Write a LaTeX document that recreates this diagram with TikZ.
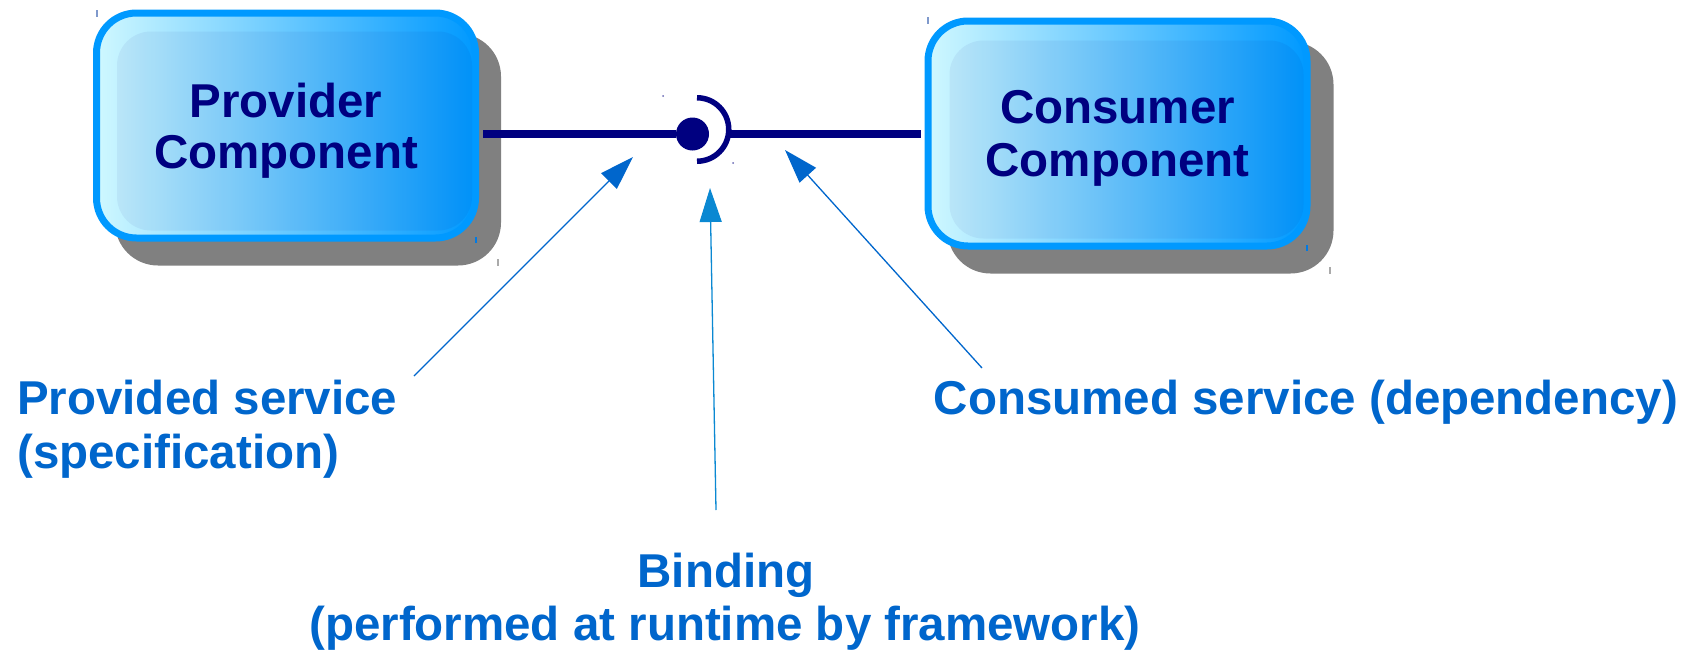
\documentclass[tikz,border=0pt]{standalone}
\usepackage{fontspec}
\setmainfont{Liberation Sans}
\usetikzlibrary{arrows.meta,calc,backgrounds}
\definecolor{navy}{HTML}{000080}
\definecolor{lblue}{HTML}{0066CC}
\definecolor{mblue}{HTML}{0A88D2}
\definecolor{boxedge}{HTML}{0099FF}
\definecolor{boxlight}{HTML}{CFF8FF}
\definecolor{shadowgray}{HTML}{808080}
\definecolor{tickblue}{HTML}{7F99CC}
\definecolor{tickgray}{HTML}{AAAAAA}
\begin{document}
\begin{tikzpicture}[x=1pt,y=-1pt,
  compbox/.style={draw=boxedge, line width=7pt, rounded corners=40pt,
    left color=boxlight, right color=boxedge,
    minimum width=379pt, minimum height=225pt, inner sep=0pt},
  bevel/.style={fill=navy, opacity=0.05, rounded corners=34pt},
  boxshadow/.style={fill=shadowgray, rounded corners=43pt},
  boxtext/.style={font=\fontsize{47.5}{52}\selectfont\bfseries, text=navy,
    inner sep=0pt, anchor=base},
  labeltext/.style={font=\fontsize{47.5}{54}\selectfont\bfseries, text=lblue,
    inner sep=0pt},
  wire/.style={draw=navy, line width=8pt},
  pointer/.style={draw=lblue, line width=1.3pt,
    -{Triangle[length=34pt,width=22pt]}},
  bindpointer/.style={pointer, draw=mblue},
  tickmark/.style={line width=1.5pt},
]
\useasboundingbox (0,0) rectangle (1702,651);

% components
\node[compbox] (prov) at (286,125.5) {};
\node[compbox] (cons) at (1117.5,133.5) {};

\begin{scope}[on background layer]
  \fill[boxshadow] ($(prov.north west)+(22,24)$) rectangle ($(prov.south east)+(22,24)$);
  \fill[boxshadow] ($(cons.north west)+(23,24)$) rectangle ($(cons.south east)+(23,24)$);
\end{scope}

\fill[bevel] ($(prov.north west)+(24,22)$) rectangle ($(prov.south east)+(-7,-11)$);
\fill[bevel] ($(cons.north west)+(25,23)$) rectangle ($(cons.south east)+(-7,-11)$);

% small marks at the box corners
\draw[tickmark, tickblue] (97,10) -- (97,17);
\draw[tickmark, boxedge!80!navy] (476,237) -- (476,243);
\draw[tickmark, tickgray] (498,259) -- (498,266);
\draw[tickmark, tickblue] (928,17) -- (928,24);
\draw[tickmark, boxedge!80!navy] (1307,245) -- (1307,251);
\draw[tickmark, tickgray] (1330,267) -- (1330,274);

\node[boxtext] (provA) at (286,117) {Provider};
\node[boxtext] (provB) at (286,168.5) {Component};
\node[boxtext] (consA) at (1117.5,123) {Consumer};
\node[boxtext] (consB) at (1117.5,176.5) {Component};

% ball and socket
\node[circle, fill=navy, minimum size=33pt, inner sep=0pt] (ball) at (692.5,134) {};
\coordinate (sockc) at (697,129.5);
\coordinate (sockr) at (728.5,134);
\draw[wire, shorten <=4pt] (ball -| prov.east) -- (ball);
\draw[wire, shorten >=4pt] (sockr) -- (ball -| cons.west);
\draw[navy, line width=5.5pt] ($(sockc)+(0,-31.75)$) arc[start angle=90, end angle=-90, radius=31.75pt];
\fill[navy!60] (663,96) circle[radius=1pt];
\fill[navy!60] (733,163) circle[radius=1pt];

% labels
\node[labeltext, anchor=base west] (pvA) at (17,414) {Provided service};
\node[labeltext, anchor=base west] (pvB) at (17,468) {(specification)};
\node[labeltext, anchor=base west] (cs) at (933.5,414) {Consumed service (dependency)};
\node[labeltext, anchor=base] (bdA) at (726,587) {Binding};
\node[labeltext, anchor=base] (bdB) at (725,640) {(performed at runtime by framework)};

% pointers
\coordinate (pvtail) at (414,376);
\coordinate (pvtip) at (633,157);
\coordinate (cstail) at (982,368);
\coordinate (cstip) at (785,150);
\coordinate (bdtail) at (716,510);
\coordinate (bdtip) at (710,188);
\draw[pointer] (pvtail) -- (pvtip);
\draw[pointer] (cstail) -- (cstip);
\draw[bindpointer] (bdtail) -- (bdtip);
\end{tikzpicture}
\end{document}
